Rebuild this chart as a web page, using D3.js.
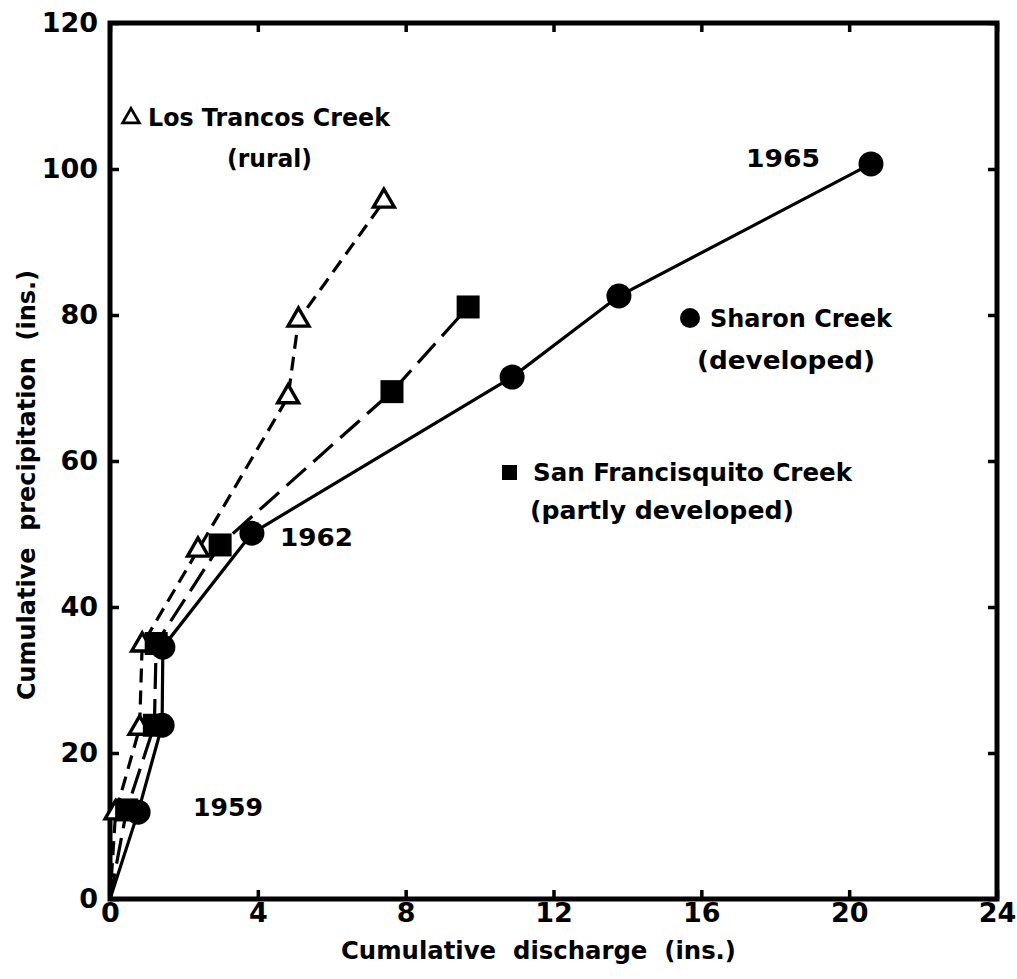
<!DOCTYPE html>
<html>
<head>
<meta charset="utf-8">
<script src="https://cdn.jsdelivr.net/npm/d3@7"></script>
<style>
  html, body { margin: 0; padding: 0; background: #fff; }
  svg { display: block; }
  text { font-family: "DejaVu Sans", "Liberation Sans", sans-serif; font-weight: bold; fill: #000; }
</style>
</head>
<body>
<svg id="chart" width="1017" height="979"></svg>
<script>
// Cumulative discharge (x, inches) vs cumulative precipitation (y, inches), 1959-1965
const sharonX = [0, 0.76, 1.41, 1.43, 3.84, 10.88, 13.77, 20.59];
const sharonY = [0, 11.9, 23.8, 34.5, 50.1, 71.5, 82.6, 100.7];

const sanFranX = [0, 0.45, 1.2, 1.25, 2.98, 7.63, 9.69];
const sanFranY = [0, 12.2, 23.8, 35.0, 48.5, 69.5, 81.1];

const losTrancosX = [0, 0.15, 0.8, 0.87, 2.38, 4.82, 5.1, 7.41];
const losTrancosY = [0, 11.8, 23.4, 34.8, 47.8, 68.8, 79.3, 95.6];

const xTicks = [0, 4, 8, 12, 16, 20, 24];
const yTicks = [0, 20, 40, 60, 80, 100, 120];

const xTitle = "Cumulative  discharge  (ins.)";
const yTitle = "Cumulative  precipitation  (ins.)";

const svg = d3.select("#chart");
const W = 1017, H = 979;
const plotLeft = 110, plotRight = 997, plotTop = 23, plotBottom = 899;

const x = d3.scaleLinear().domain([0, 24]).range([plotLeft, plotRight]);
const y = d3.scaleLinear().domain([0, 120]).range([plotBottom, plotTop]);

svg.append("rect").attr("width", W).attr("height", H).attr("fill", "#fff");

const zip = (xs, ys) => xs.map((v, i) => [v, ys[i]]);
const sharon = zip(sharonX, sharonY);
const sanFran = zip(sanFranX, sanFranY);
const losTrancos = zip(losTrancosX, losTrancosY);

// Axes with inward ticks on all four sides
const tick = 9;
const gx = svg.append("g").attr("transform", `translate(0,${plotBottom})`)
  .call(d3.axisBottom(x).tickValues(xTicks).tickSizeInner(-tick).tickSizeOuter(0).tickPadding(4));
const gy = svg.append("g").attr("transform", `translate(${plotLeft},0)`)
  .call(d3.axisLeft(y).tickValues(yTicks).tickSizeInner(-tick).tickSizeOuter(0).tickPadding(12));
const gt = svg.append("g").attr("transform", `translate(0,${plotTop})`)
  .call(d3.axisTop(x).tickValues(xTicks).tickSizeInner(-tick).tickSizeOuter(0).tickFormat(""));
const gr = svg.append("g").attr("transform", `translate(${plotRight},0)`)
  .call(d3.axisRight(y).tickValues(yTicks).tickSizeInner(-tick).tickSizeOuter(0).tickFormat(""));

[gx, gy, gt, gr].forEach(g => {
  g.select(".domain").remove();
  g.selectAll(".tick line").attr("stroke", "#000").attr("stroke-width", 3.5);
});
[gx, gy].forEach(g => {
  g.selectAll(".tick text")
    .style("font-family", '"DejaVu Sans", sans-serif')
    .style("font-weight", "bold")
    .attr("font-size", 27)
    .attr("fill", "#000");
});

// Plot frame
svg.append("rect")
  .attr("x", plotLeft).attr("y", plotTop)
  .attr("width", plotRight - plotLeft).attr("height", plotBottom - plotTop)
  .attr("fill", "none").attr("stroke", "#000").attr("stroke-width", 5);

// Series lines
const line = d3.line().x(d => x(d[0])).y(d => y(d[1]));
svg.append("path").datum(losTrancos).attr("d", line)
  .attr("fill", "none").attr("stroke", "#000").attr("stroke-width", 3.2)
  .attr("stroke-dasharray", "14,8");
svg.append("path").datum(sanFran).attr("d", line)
  .attr("fill", "none").attr("stroke", "#000").attr("stroke-width", 3.2)
  .attr("stroke-dasharray", "26,10");
svg.append("path").datum(sharon).attr("d", line)
  .attr("fill", "none").attr("stroke", "#000").attr("stroke-width", 3.2);

// Markers (origin point carries no marker)
const triPath = d3.symbol().type(d3.symbolTriangle).size(190)();
svg.append("g").selectAll("path").data(losTrancos.slice(1)).join("path")
  .attr("d", triPath)
  .attr("transform", d => `translate(${x(d[0])},${y(d[1])})`)
  .attr("fill", "#fff").attr("stroke", "#000").attr("stroke-width", 3.4);

const sq = 23;
svg.append("g").selectAll("rect").data(sanFran.slice(1)).join("rect")
  .attr("x", d => x(d[0]) - sq / 2).attr("y", d => y(d[1]) - sq / 2)
  .attr("width", sq).attr("height", sq).attr("fill", "#000");

svg.append("g").selectAll("circle").data(sharon.slice(1)).join("circle")
  .attr("cx", d => x(d[0])).attr("cy", d => y(d[1])).attr("r", 12.5).attr("fill", "#000");

// Labels and legend entries
const labels = [
  { t: "Los Trancos Creek", x: 148, y: 117, len: 242 },
  { t: "(rural)", x: 227, y: 158, len: 85 },
  { t: "1965", x: 746, y: 158, len: 74 },
  { t: "Sharon Creek", x: 710, y: 318, len: 182 },
  { t: "(developed)", x: 697, y: 360, len: 178 },
  { t: "San Francisquito Creek", x: 533, y: 472, len: 319 },
  { t: "(partly developed)", x: 530, y: 510, len: 264 },
  { t: "1962", x: 280, y: 537, len: 73 },
  { t: "1959", x: 193, y: 807, len: 70 }
];
svg.append("g").selectAll("text").data(labels).join("text")
  .attr("x", d => d.x).attr("y", d => d.y).attr("dy", "0.36em")
  .attr("font-size", 24)
  .attr("textLength", d => d.len).attr("lengthAdjust", "spacingAndGlyphs")
  .text(d => d.t);

// Legend symbols
svg.append("path").attr("d", d3.symbol().type(d3.symbolTriangle).size(120)())
  .attr("transform", "translate(131,118)")
  .attr("fill", "#fff").attr("stroke", "#000").attr("stroke-width", 2.8);
svg.append("circle").attr("cx", 690).attr("cy", 318).attr("r", 10).attr("fill", "#000");
svg.append("rect").attr("x", 502).attr("y", 465).attr("width", 15).attr("height", 15).attr("fill", "#000");

// Axis titles
svg.append("text")
  .attr("x", 341).attr("y", 950).attr("dy", "0.36em")
  .attr("font-size", 24)
  .attr("textLength", 395).attr("lengthAdjust", "spacingAndGlyphs")
  .style("white-space", "pre")
  .text(xTitle);

svg.append("text")
  .attr("transform", "translate(26,700) rotate(-90)")
  .attr("dy", "0.36em")
  .attr("font-size", 24)
  .attr("textLength", 430).attr("lengthAdjust", "spacingAndGlyphs")
  .style("white-space", "pre")
  .text(yTitle);
</script>
</body>
</html>
